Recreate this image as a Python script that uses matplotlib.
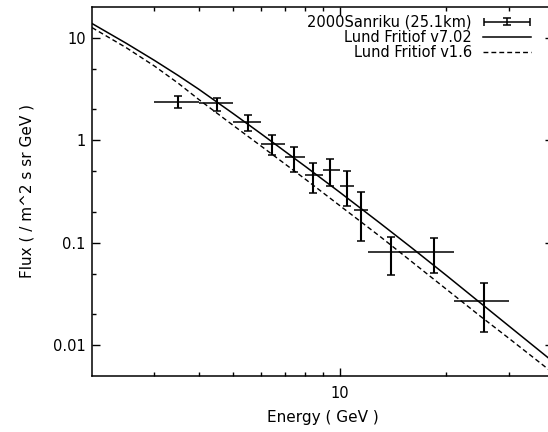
#!/usr/bin/env python3
"""Atmospheric muon flux vs energy: 2000 Sanriku balloon data against Lund Fritiof predictions."""
import numpy as np
import matplotlib
matplotlib.use("Agg")
import matplotlib.pyplot as plt
from matplotlib.container import ErrorbarContainer
from matplotlib.legend_handler import HandlerErrorbar

# 2000 Sanriku, 25.1 km: energy bins (GeV) and flux (/ m^2 s sr GeV)
E_MID = np.array([3.5, 4.5, 5.5, 6.45, 7.45, 8.4, 9.4, 10.5, 11.45, 14.0, 18.5, 25.5])
E_LO = np.array([3, 4, 5, 6, 7, 8, 9, 10, 11, 12, 16, 21])
E_HI = np.array([4, 5, 6, 7, 8, 9, 10, 11, 12, 16, 21, 30])
FLUX = np.array([2.36, 2.33, 1.51, 0.914, 0.693, 0.456, 0.513, 0.358, 0.209, 0.0813, 0.0813, 0.027])
FLUX_HI = np.array([2.70, 2.61, 1.75, 1.12, 0.868, 0.597, 0.663, 0.496, 0.313, 0.1125, 0.110, 0.040])
FLUX_LO = np.array([2.05, 1.93, 1.23, 0.714, 0.491, 0.304, 0.358, 0.229, 0.104, 0.0482, 0.0503, 0.0135])

# model curves, sampled at these energies
MODEL_E = np.array([2, 2.5, 3, 3.5, 4, 5, 6, 8, 10, 13, 16, 20, 25, 30, 40])
# Lund Fritiof v7.02
V702_F = np.array([13.80, 8.836, 6.025, 4.292, 3.156, 1.827, 1.158, 0.556, 0.3113,
                   0.1553, 0.0887, 0.0480, 0.0257, 0.01543, 0.00690])
# Lund Fritiof v1.6
V16_F = np.array([12.59, 8.003, 5.308, 3.611, 2.507, 1.402, 0.8785, 0.4171, 0.2307,
                  0.1151, 0.06498, 0.03518, 0.01905, 0.0117, 0.005353])

FS = 10.5


def main():
    fig = plt.figure(figsize=(5.48, 4.32), dpi=100)
    ax = fig.add_axes([92 / 548, 56 / 432, 461 / 548, 369 / 432])

    eb = ax.errorbar(E_MID, FLUX,
                     xerr=[E_MID - E_LO, E_HI - E_MID],
                     yerr=[FLUX - FLUX_LO, FLUX_HI - FLUX],
                     fmt="none", ecolor="black", elinewidth=1.1,
                     capsize=2.8, capthick=1.1,
                     label="2000Sanriku (25.1km)")
    # caps only on the vertical bars in the plot (legend keeps them)
    for cap in eb.lines[1][:2]:
        cap.set_data([], [])
    eb.lines[2][1].set_linewidth(1.5)

    l1, = ax.plot(MODEL_E, V702_F, "-", color="black", lw=1.1,
                  label="Lund Fritiof v7.02")
    l2, = ax.plot(MODEL_E, V16_F, color="black", lw=1.0,
                  linestyle=(0, (3.5, 2.2)), label="Lund Fritiof v1.6")

    ax.set_xscale("log")
    ax.set_yscale("log")
    ax.set_xlim(2, 40)
    ax.set_ylim(0.005, 20)

    ax.set_xticks([10])
    ax.set_xticklabels(["10"])
    ax.set_xticks([3, 4, 5, 6, 7, 8, 9, 20, 30], minor=True)
    ax.set_xticklabels([], minor=True)
    ax.set_yticks([0.01, 0.1, 1, 10])
    ax.set_yticklabels(["0.01", "0.1", "1", "10"])
    ax.set_yticks([0.02, 0.05, 0.2, 0.5, 2, 5], minor=True)
    ax.set_yticklabels([], minor=True)
    ax.tick_params(which="both", direction="in", top=True, right=True,
                   width=1.0, labelsize=FS)
    ax.tick_params(which="major", length=6)
    ax.tick_params(which="minor", length=3)
    ax.tick_params(axis="x", which="major", pad=7.5)
    ax.tick_params(axis="y", which="major", pad=4.5)
    for sp in ax.spines.values():
        sp.set_linewidth(1.1)

    ax.set_xlabel("Energy ( GeV )", fontsize=11)
    ax.set_ylabel("Flux ( / m^2 s sr GeV )", fontsize=11)
    ax.xaxis.set_label_coords(0.5, -0.093)
    ax.yaxis.set_label_coords(-0.125, 0.5)

    ax.legend([eb, l1, l2], [eb.get_label(), l1.get_label(), l2.get_label()],
              loc="upper right", bbox_to_anchor=(0.9523, 0.979), frameon=False,
              markerfirst=False, fontsize=FS, borderpad=0, borderaxespad=0,
              handlelength=3.3, handletextpad=0.75, labelspacing=0.0,
              handler_map={ErrorbarContainer: HandlerErrorbar(xerr_size=1.6, yerr_size=0.22)})

    fig.savefig("out.png", dpi=100)


if __name__ == "__main__":
    main()
